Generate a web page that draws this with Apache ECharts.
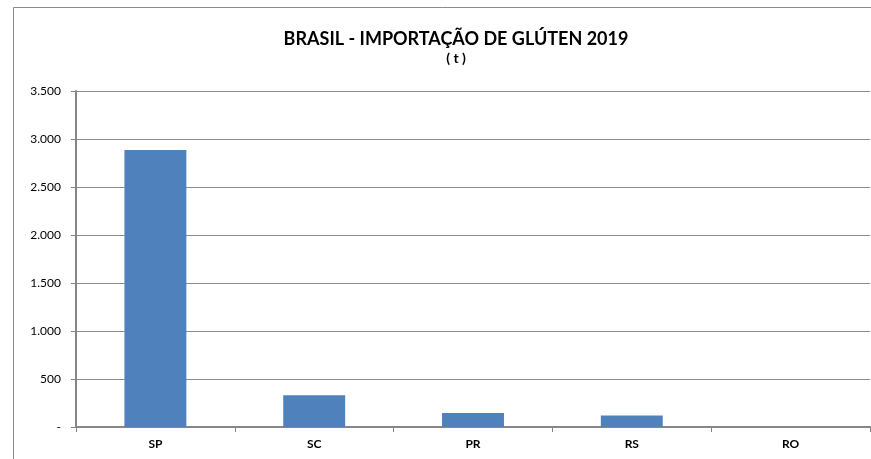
<!DOCTYPE html>
<html>
<head>
<meta charset="utf-8">
<script src="https://cdn.jsdelivr.net/npm/echarts@6/dist/echarts.min.js"></script>
<style>
  html, body { margin: 0; padding: 0; background: #fff; }
  #chart { width: 871px; height: 459px; }
</style>
</head>
<body>
<div id="chart"></div>
<script>
// estados e toneladas importadas
const states = ['SP', 'SC', 'PR', 'RS', 'RO'];
const tons = [2885, 332, 145, 120, 1];

const chart = echarts.init(document.getElementById('chart'));

const fmt = v => {
  if (v === 0) return '-';
  return String(v).replace(/\B(?=(\d{3})+(?!\d))/g, '.');
};

const font = 'Lato, "Open Sans", sans-serif';

chart.setOption({
  animation: false,
  textStyle: { fontFamily: font },
  graphic: [{
    type: 'rect',
    shape: { x: 13.5, y: 7.5, width: 900, height: 500 },
    style: { fill: 'none', stroke: '#8a8a8a', lineWidth: 1 },
    z: -1
  }],
  title: {
    text: 'BRASIL - IMPORTAÇÃO DE GLÚTEN 2019',
    subtext: '( t )',
    left: 451,
    top: 25,
    textAlign: 'center',
    itemGap: 3,
    textStyle: { fontSize: 18, fontWeight: 'bold', color: '#000', fontFamily: font },
    subtextStyle: { fontSize: 14, fontWeight: 'bold', color: '#000', fontFamily: font }
  },
  grid: { left: 76, right: 1, top: 91, bottom: 32 },
  xAxis: {
    type: 'category',
    data: states,
    axisLine: { lineStyle: { color: '#868686', width: 2 } },
    axisTick: { show: true, length: 5, lineStyle: { color: '#868686' } },
    axisLabel: { color: '#000', fontSize: 12, fontWeight: 'bold', margin: 11 }
  },
  yAxis: {
    type: 'value',
    min: 0,
    max: 3500,
    interval: 500,
    axisLine: { show: true, lineStyle: { color: '#868686', width: 2 } },
    axisTick: { show: true, length: 5, lineStyle: { color: '#868686' } },
    axisLabel: { color: '#000', fontSize: 12, margin: 15, formatter: fmt },
    splitLine: { lineStyle: { color: '#8c8c8c', width: 1 } }
  },
  series: [{
    type: 'bar',
    data: tons,
    barWidth: '39%',
    itemStyle: { color: '#4F81BD' }
  }]
});
</script>
</body>
</html>
